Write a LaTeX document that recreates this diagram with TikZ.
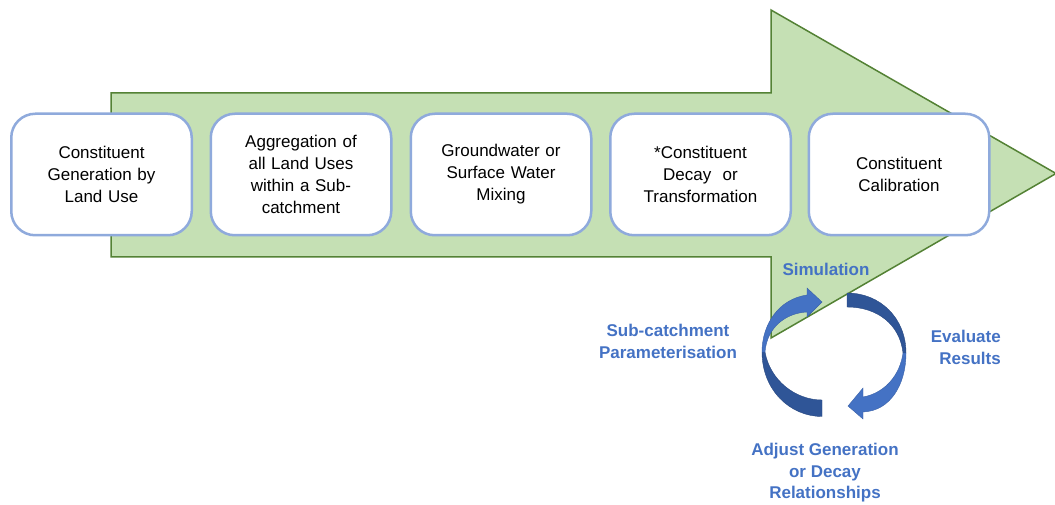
\documentclass[tikz,border=0pt]{standalone}
\usepackage{fontspec}
\setmainfont{Liberation Sans}
\definecolor{arrowgreen}{HTML}{C5E0B4}
\definecolor{arrowedge}{HTML}{548235}
\definecolor{boxblue}{HTML}{8FAADC}
\definecolor{lightblue}{HTML}{4472C4}
\definecolor{darkblue}{HTML}{2F5597}
\definecolor{labelblue}{HTML}{4472C4}
\begin{document}
\begin{tikzpicture}[x=1pt,y=-1pt,
  stepbox/.style={draw=boxblue, line width=2.5pt, fill=white, rounded corners=24pt,
    minimum width=180.5pt, minimum height=121.5pt, align=center, inner sep=0pt,
    text width=172pt, font=\fontsize{17}{22}\selectfont},
  cyclabel/.style={text=labelblue, align=center, inner sep=0pt,
    font=\fontsize{17}{21.5}\selectfont\bfseries},
  lightpart/.style={fill=lightblue, draw=lightblue!85!black, line width=0.4pt},
  darkpart/.style={fill=darkblue, draw=darkblue!85!black, line width=0.4pt}]
\useasboundingbox (0,0) rectangle (1055,505);
% big process arrow
\draw[fill=arrowgreen, draw=arrowedge, line width=1.5pt, line join=miter]
  (111,93) -- (771,93) -- (771,10) -- (1056,173.5) -- (771,338) -- (771,257) -- (111,257) -- cycle;
% process steps
\node[stepbox] (b1) at (101.5,174.5) {Constituent\\Generation by\\Land Use};
\node[stepbox] (b2) at (301,174.5) {Aggregation of\\all Land Uses\\within a Sub-\\catchment};
\node[stepbox] (b3) at (501,174.5) {Groundwater or\\Surface Water\\Mixing};
\node[stepbox] (b4) at (700.5,174.5) {*Constituent\\Decay\ \ or\\Transformation};
\node[stepbox] (b5) at (899,174.5) {Constituent\\Calibration};
% calibration cycle: left arrow (dark lower part, light upper part with head)
\path[darkpart] (762,352) .. controls (762,390) and (790,416.5) .. (822,416.5)
  -- (822,400) .. controls (795,400) and (770,380) .. (765,352) -- cycle;
\path[lightpart] (762,352) .. controls (762,324) and (779,299) .. (807,295)
  -- (807,288) -- (822,302) -- (807,317) -- (807,312)
  .. controls (786,313) and (767,327) .. (765,352) -- cycle;
% right arrow (dark upper part, light lower part with head)
\path[darkpart] (847,293) .. controls (880,293) and (906,318) .. (906,353)
  -- (903,353) .. controls (900,325) and (878,307) .. (847,307) -- cycle;
\path[lightpart] (906,353) .. controls (906,385) and (890,411) .. (863,412)
  -- (863,419) -- (848,406) -- (863,388) -- (863,397)
  .. controls (885,393) and (900,375) .. (903,353) -- cycle;
% cycle labels
\node[cyclabel] (sim) at (826,269) {Simulation};
\node[cyclabel] (par) at (668,341.5) {Sub-catchment\\Parameterisation};
\node[cyclabel, align=right, anchor=east] (eva) at (1001,347.5) {Evaluate\\Results};
\node[cyclabel] (adj) at (825,473) {Adjust Generation\\or Decay\\Relationships};
\end{tikzpicture}
\end{document}
